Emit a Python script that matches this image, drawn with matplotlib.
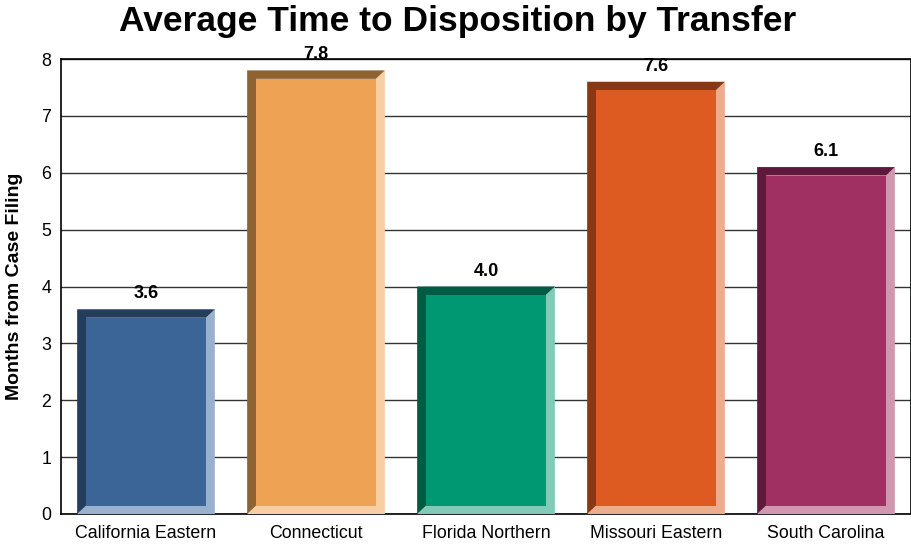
import matplotlib
matplotlib.use("Agg")
import matplotlib.pyplot as plt
from matplotlib.patches import Polygon, Rectangle

plt.rcParams['font.family'] = ['Liberation Sans', 'DejaVu Sans']

categories = ["California Eastern", "Connecticut", "Florida Northern", "Missouri Eastern", "South Carolina"]
values = [3.6, 7.8, 4.0, 7.6, 6.1]
labels = ["3.6", "7.8", "4.0", "7.6", "6.1"]
face_colors = ["#3A6596", "#EEA354", "#009872", "#DD5A20", "#A03062"]
dark_colors = ["#233D5C", "#8F6232", "#005B44", "#8A3814", "#60193B"]
light_colors = ["#9AB1CD", "#F7CFA4", "#7FCBB8", "#EEAC8F", "#CF97B0"]

fig = plt.figure(figsize=(9.12, 5.46), dpi=100)
ax = fig.add_axes([61/912, 32/546, 850/912, 455/546])

ax.set_xlim(-0.5, len(categories) - 0.5)
ax.set_ylim(0, 8)
ax.set_yticks(range(0, 9))
ax.yaxis.grid(True, color="#333333", linewidth=1)
ax.set_axisbelow(True)

width = 0.81
bx = 9.0 / 170.0
by = 8.5 / 56.9
for i, v in enumerate(values):
    x0 = i - width / 2
    x1 = i + width / 2
    xi0, xi1 = x0 + bx, x1 - bx
    yi0, yi1 = by, v - by
    ax.add_patch(Polygon([(x1, v), (x1, 0), (x0, 0), (xi0, yi0), (xi1, yi0), (xi1, yi1)],
                         closed=True, facecolor=light_colors[i], edgecolor='none', zorder=3))
    ax.add_patch(Polygon([(x0, 0), (x0, v), (x1, v), (xi1, yi1), (xi0, yi1), (xi0, yi0)],
                         closed=True, facecolor=dark_colors[i], edgecolor='none', zorder=3))
    ax.add_patch(Rectangle((xi0, yi0), xi1 - xi0, yi1 - yi0,
                           facecolor=face_colors[i], edgecolor='none', zorder=4))
    ax.annotate(labels[i], (i, v), xytext=(0, 5), textcoords="offset points",
                ha="center", va="bottom", fontsize=13, fontweight="bold", zorder=5)

ax.set_xticks(range(len(categories)))
ax.set_xticklabels(categories, fontsize=12.8)
ax.tick_params(axis='x', length=0, pad=8)
ax.tick_params(axis='y', length=0, labelsize=12.8, pad=7)
for s in ax.spines.values():
    s.set_color("black")
    s.set_linewidth(1.2)

ax.set_ylabel("Months from Case Filing", fontsize=14, fontweight="bold", labelpad=13)
fig.text(0.502, 0.96, "Average Time to Disposition by Transfer", ha="center", va="center",
         fontsize=25.5, fontweight="bold")

fig.savefig("out.png", dpi=100)
